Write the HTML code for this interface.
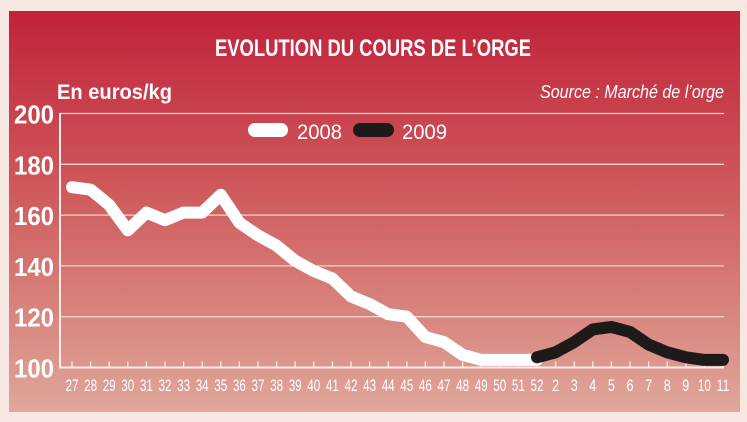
<!DOCTYPE html>
<html><head><meta charset="utf-8"><style>
body{margin:0;background:#f6e7e1;}
svg{display:block;font-family:"Liberation Sans",sans-serif;}
</style></head><body>
<svg width="747" height="422" viewBox="0 0 747 422">
<defs><linearGradient id="bg" x1="0" y1="0" x2="0" y2="1">
<stop offset="0" stop-color="#c1223a"/><stop offset="0.45" stop-color="#cf5a5c"/><stop offset="1" stop-color="#e0a79a"/></linearGradient></defs>
<rect x="9" y="11" width="731" height="401" fill="url(#bg)"/>
<text x="373" y="56" fill="#fff" font-size="24" font-weight="bold" text-anchor="middle" textLength="316" lengthAdjust="spacingAndGlyphs">EVOLUTION DU COURS DE L’ORGE</text>
<text x="57" y="99" fill="#fff" font-size="21" font-weight="bold" textLength="115" lengthAdjust="spacingAndGlyphs">En euros/kg</text>
<text x="724" y="98" fill="#fff" font-size="18" font-style="italic" text-anchor="end" textLength="184" lengthAdjust="spacingAndGlyphs">Source : Marché de l’orge</text>
<g id="grid"></g><g id="xax"></g>
<g>
<rect x="248" y="123" width="40" height="14" rx="7" fill="#fff"/>
<text x="297" y="139" fill="#fff" font-size="21" textLength="45" lengthAdjust="spacingAndGlyphs">2008</text>
<rect x="353" y="123" width="41" height="14" rx="7" fill="#1e1a1a"/>
<text x="402" y="139" fill="#fff" font-size="21" textLength="45" lengthAdjust="spacingAndGlyphs">2009</text>
</g>
<g id="lines"></g>
</svg>
<script>
const categories=["27","28","29","30","31","32","33","34","35","36","37","38","39","40","41","42","43","44","45","46","47","48","49","50","51","52","2","3","4","5","6","7","8","9","10","11"];
const yTicks=[100,120,140,160,180,200];
const values2008=[171,170,164,154,161,158,161,161,168,157,152,148,142,138,135,128,125,121,120,112,110,105,103,103,103,103];
const values2009=[104,106,110,115,116,114,109,106,104,103,103];
const start2009=25;
const NS="http://www.w3.org/2000/svg";
const X0=72,DX=18.6,Y100=367.5,PX=50.8/20;
const xs=i=>X0+i*DX, ys=v=>Y100-(v-100)*PX;
const grid=document.getElementById('grid'),xax=document.getElementById('xax'),lines=document.getElementById('lines');
function mk(tag,attrs,parent){const e=document.createElementNS(NS,tag);for(const k in attrs)e.setAttribute(k,attrs[k]);parent.appendChild(e);return e;}
yTicks.forEach(v=>{
 const y=ys(v);
 const l=mk('line',{x1:59,x2:724,y1:y,y2:y,stroke:v===100?'#fbeee8':'#f3d3cc','stroke-width':v===100?2:1.3},grid);
 
 
 const t=mk('text',{x:54,y:y+10,fill:'#fff','font-size':26,'font-weight':'bold','text-anchor':'end',textLength:40,lengthAdjust:'spacingAndGlyphs'},grid);
 t.textContent=v;
 
 
});
const ax=mk('line',{x1:60,x2:60,y1:ys(200),y2:Y100,stroke:'#fbeee8','stroke-width':2},grid);


categories.forEach((c,i)=>{
 const x=xs(i);
 const tk=mk('line',{x1:x,x2:x,y1:Y100-6,y2:Y100,stroke:'#fbeee8','stroke-width':1.3},xax);
 
 
 const t=mk('text',{x:x,y:391,fill:'#fff','font-size':17,'text-anchor':'middle',textLength:c.length>1?13:7,lengthAdjust:'spacingAndGlyphs'},xax);
 t.textContent=c;
 
 
});
function line(vals,off,col,name){
 const d=vals.map((v,i)=>(i?'L':'M')+xs(i+off).toFixed(1)+','+ys(v).toFixed(1)).join(' ');
 const p=mk('path',{d:d,fill:'none',stroke:col,'stroke-width':12,'stroke-linejoin':'round','stroke-linecap':'round'},lines);
 
 
}
line(values2008,0,'#ffffff','series-2008-line');
line(values2009,start2009,'#1e1a1a','series-2009-line');
</script>
</body></html>
